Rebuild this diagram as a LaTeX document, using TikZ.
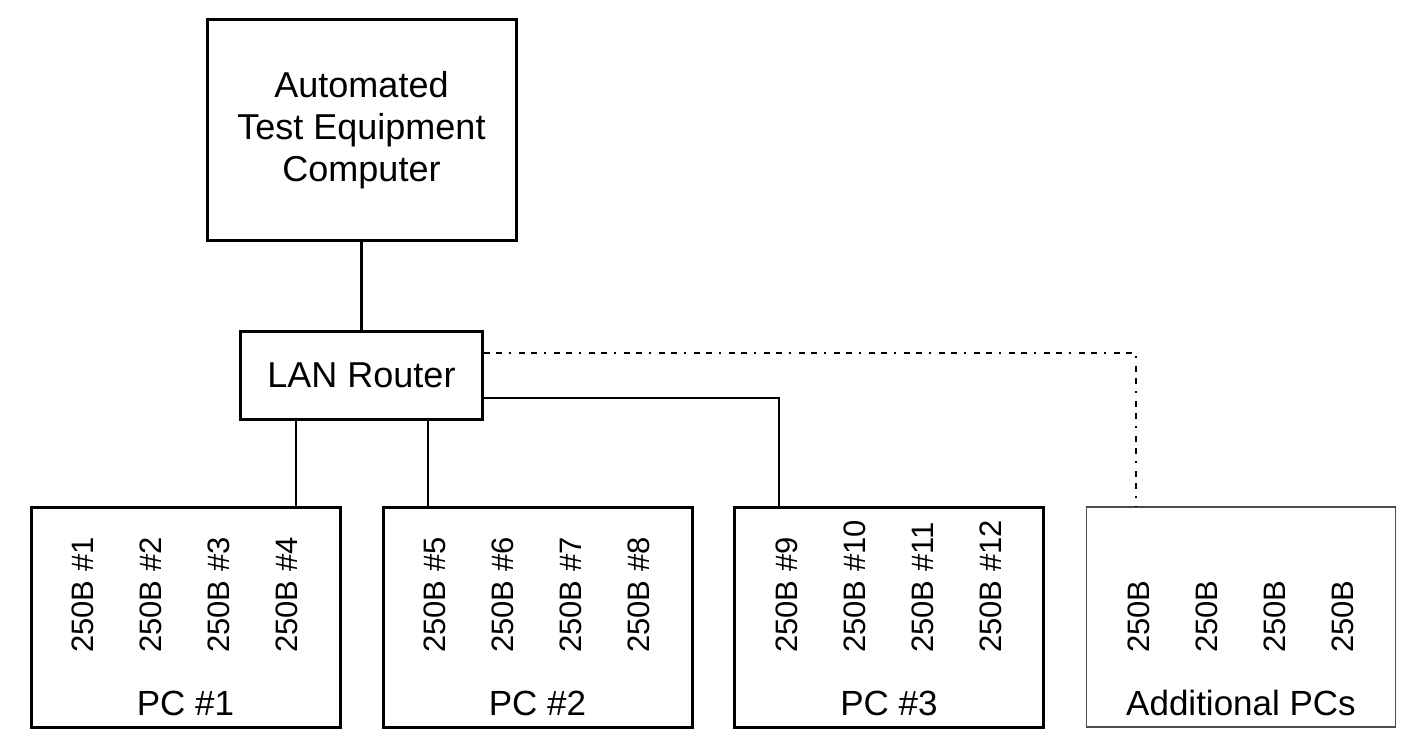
\documentclass[tikz,border=0pt]{standalone}
\usepackage{fontspec}
\setmainfont{Liberation Sans}
\usetikzlibrary{positioning}

\tikzset{
  box/.style={draw, line width=3pt, inner sep=0pt, align=center,
    font=\fontsize{36}{42}\selectfont},
  pcbox/.style={box, minimum width=309pt, minimum height=220pt},
  sparebox/.style={pcbox, draw=black!70, line width=1.5pt},
  unit/.style={rotate=90, anchor=base west, inner sep=0pt,
    font=\fontsize{31}{31}\selectfont},
  pclabel/.style={anchor=base, inner sep=0pt, font=\fontsize{35}{35}\selectfont},
  link/.style={line width=2.6pt},
  spare/.style={line width=1.4pt,
    dash pattern=on 6pt off 6pt on 6pt off 7pt on 1.5pt off 8.5pt}
}

\begin{document}
\begin{tikzpicture}[x=1pt, y=-1pt]
  \useasboundingbox (0,0) rectangle (1416,754);

  % Nodes
  \node[box, minimum width=309pt, minimum height=220pt] (ate) at (361.5,130)
    {Automated\\Test Equipment\\Computer};
  \node[box, minimum width=242pt, minimum height=88pt] (router) at (361.5,375) {LAN Router};
  \node[pcbox]    (pc1) at (185.5,617) {};
  \node[pcbox]    (pc2) at (537.5,617) {};
  \node[pcbox]    (pc3) at (889,617)   {};
  \node[sparebox] (pcx) at (1241,617)  {};

  % Labels
  \node[pclabel] (pc1-name) at (pc1 |- 0,715) {PC \#1};
  \node[pclabel] (pc2-name) at (pc2 |- 0,715) {PC \#2};
  \node[pclabel] (pc3-name) at (pc3 |- 0,715) {PC \#3};
  \node[pclabel] (pcx-name) at (pcx |- 0,715) {Additional PCs};
  \foreach \i in {1,...,4} {
    \pgfmathtruncatemacro{\a}{\i+4}
    \pgfmathtruncatemacro{\b}{\i+8}
    \node[unit] (pc1-u\i) at ([xshift={64pt+68pt*(\i-1)}]pc1.west |- 0,653) {250B \#\i};
    \node[unit] (pc2-u\i) at ([xshift={64pt+68pt*(\i-1)}]pc2.west |- 0,653) {250B \#\a};
    \node[unit] (pc3-u\i) at ([xshift={64pt+68pt*(\i-1)}]pc3.west |- 0,653) {250B \#\b};
    \node[unit] (pcx-u\i) at ([xshift={64pt+68pt*(\i-1)}]pcx.west |- 0,653) {250B};
  }

  % Edges
  \draw[link] (ate.south) -- (router.north);
  \draw[link] (router.south -| 296,0) -- (pc1.north -| 296,0);
  \draw[link] (router.south -| 428,0) -- (pc2.north -| 428,0);
  \draw[link] (router.east |- 0,398) -| (pc3.north -| 779,0);
  \draw[spare] (router.east |- 0,353) -| (pcx.north -| 1136,0); % room for more PCs
\end{tikzpicture}
\end{document}
